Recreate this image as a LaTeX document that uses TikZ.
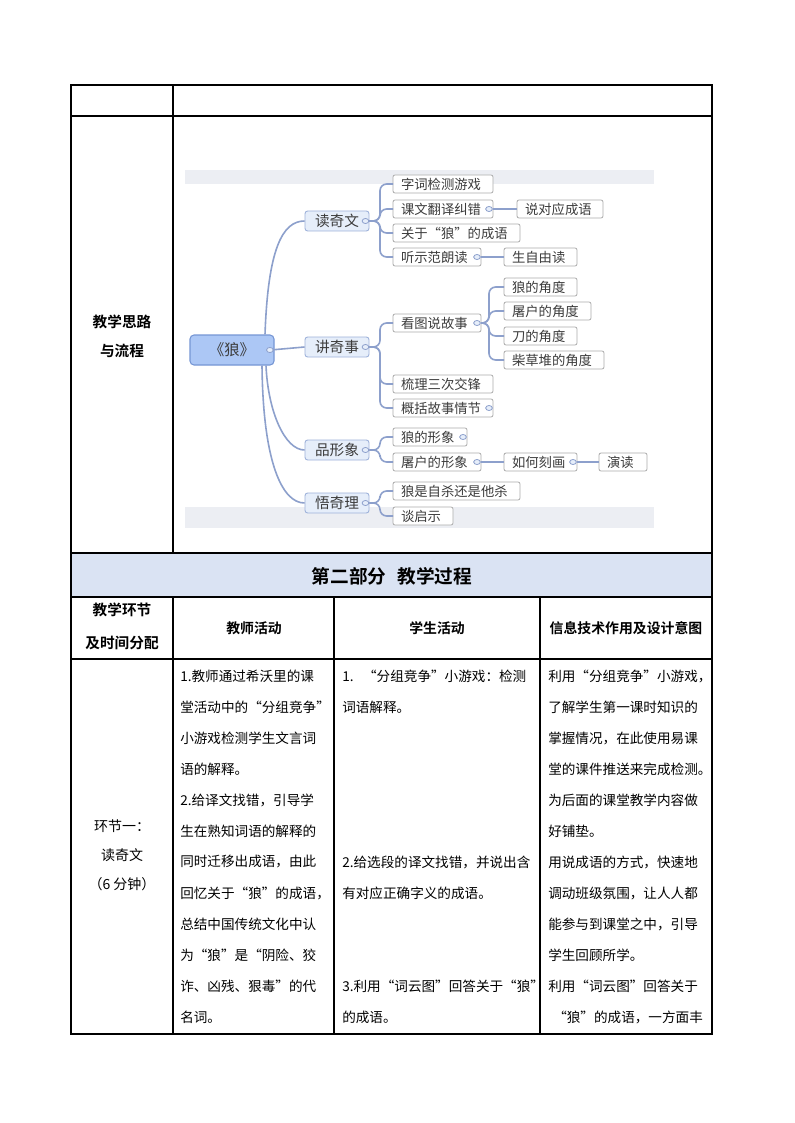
\documentclass[tikz,border=0pt]{standalone}
\usepackage{fontspec}
\usetikzlibrary{shapes.geometric,calc}
\setmainfont{Noto Sans CJK SC}[BoldFont={Noto Sans CJK SC Bold}]
\XeTeXlinebreaklocale "zh"
\XeTeXlinebreakskip=0pt plus 1pt minus 0.6pt
\hbadness=10000 \hfuzz=20pt
\definecolor{mmline}{RGB}{141,160,204}
\definecolor{rootfill}{RGB}{172,199,245}
\definecolor{rootdraw}{RGB}{118,150,212}
\definecolor{lonefill}{RGB}{230,238,250}
\definecolor{lonedraw}{RGB}{158,178,218}
\definecolor{ltwodraw}{RGB}{172,172,172}
\definecolor{ltwotext}{RGB}{60,60,60}
\definecolor{bandgray}{RGB}{236,238,243}
\definecolor{titlefill}{RGB}{218,227,243}
\newcommand\jtea[1]{\makebox[112.5pt][s]{#1}}
\newcommand\jstu[1]{\makebox[144.75pt][s]{#1}}
\newcommand\jinf[1]{\makebox[120.75pt][s]{#1}}
\tikzset{
  tbl/.style={line width=0.8pt, draw=black},
  mmconn/.style={draw=mmline, line width=1.2pt},
  rootbox/.style={draw=rootdraw, fill=rootfill, rounded corners=3pt, minimum width=63pt, minimum height=22.5pt, inner sep=0pt, font=\fontsize{11.5}{13}\selectfont, text=ltwotext, line width=0.8pt},
  lonebox/.style={draw=lonedraw, fill=lonefill, rounded corners=2pt, minimum width=48pt, minimum height=15pt, inner sep=0pt, font=\fontsize{11}{12}\selectfont, text=ltwotext, line width=0.7pt},
  ltwobox/.style={draw=ltwodraw, fill=white, rounded corners=1.5pt, minimum height=13.5pt, inner xsep=6pt, inner ysep=0pt, outer sep=0pt, anchor=west, align=left, font=\fontsize{10}{11}\selectfont, text=ltwotext, line width=0.6pt},
  mmdot/.style={ellipse, draw=mmline, fill=lonefill, minimum width=5pt, minimum height=3.8pt, inner sep=0pt, line width=0.6pt},
  bodytext/.style={anchor=west, inner sep=0pt, font=\fontsize{10.2}{12}\selectfont},
  celltext/.style={inner sep=0pt, font=\fontsize{10.5}{12}\selectfont},
  cellbold/.style={inner sep=0pt, font=\bfseries\fontsize{11}{12}\selectfont},
  headbold/.style={inner sep=0pt, font=\bfseries\fontsize{10.4}{12}\selectfont},
}
\begin{document}
\begin{tikzpicture}[x=0.75pt,y=-0.75pt]
\useasboundingbox (0,0) rectangle (794,1123);
\fill[white] (0,0) rectangle (794,1123);

% ---------- table ----------
\fill[titlefill] (71,553) rectangle (712,597);
\draw[tbl] (71,85) rectangle (712,1034);
\draw[tbl] (71,116) -- (712,116);
\draw[tbl] (71,553) -- (712,553);
\draw[tbl] (71,597) -- (712,597);
\draw[tbl] (71,659) -- (712,659);
\draw[tbl] (173,85) -- (173,553);
\draw[tbl] (173,597) -- (173,1034);
\draw[tbl] (334,597) -- (334,1034);
\draw[tbl] (540,597) -- (540,1034);

\node[cellbold] (lsA) at (122,322) {教学思路};
\node[cellbold] (lsB) at (122,351) {与流程};
\node[inner sep=0pt, font=\bfseries\fontsize{14}{16}\selectfont] (title) at (392,576) {第二部分\hspace{0.6em}教学过程};
\node[cellbold] (hA) at (122,610) {教学环节};
\node[cellbold] (hB) at (122,643) {及时间分配};
\node[headbold] (hC) at (254,628) {教师活动};
\node[headbold] (hD) at (437,628) {学生活动};
\node[headbold] (hE) at (626,628) {信息技术作用及设计意图};

\node[celltext] (sA) at (122,826) {环节一：};
\node[celltext] (sB) at (122,855) {读奇文};
\node[celltext] (sC) at (122,884) {（6 分钟）};

% teacher column
\node[bodytext] (teaA) at (180,676) {\jtea{1.教师通过希沃里的课}};
\node[bodytext] (teaB) at (180,707) {\jtea{堂活动中的“分组竞争”}};
\node[bodytext] (teaC) at (180,738) {\jtea{小游戏检测学生文言词}};
\node[bodytext] (teaD) at (180,769) {语的解释。};
\node[bodytext] (teaE) at (180,800) {\jtea{2.给译文找错，引导学}};
\node[bodytext] (teaF) at (180,831) {\jtea{生在熟知词语的解释的}};
\node[bodytext] (teaG) at (180,862) {\jtea{同时迁移出成语，由此}};
\node[bodytext] (teaH) at (180,893) {\jtea{回忆关于“狼”的成语，}};
\node[bodytext] (teaI) at (180,924) {\jtea{总结中国传统文化中认}};
\node[bodytext] (teaJ) at (180,955) {\jtea{为“狼”是“阴险、狡}};
\node[bodytext] (teaK) at (180,986) {\jtea{诈、凶残、狠毒”的代}};
\node[bodytext] (teaL) at (180,1017) {名词。};

% student column
\node[bodytext] (stuA) at (342,676) {\jstu{1.\hspace{0.7em}“分组竞争”小游戏：检测}};
\node[bodytext] (stuB) at (342,707) {词语解释。};
\node[bodytext] (stuC) at (342,862) {\jstu{2.给选段的译文找错，并说出含}};
\node[bodytext] (stuD) at (342,893) {有对应正确字义的成语。};
\node[bodytext] (stuE) at (342,986) {\jstu{3.利用“词云图”回答关于“狼”}};
\node[bodytext] (stuF) at (342,1017) {的成语。};

% info column
\node[bodytext] (infA) at (548,676) {\jinf{利用“分组竞争”小游戏，}};
\node[bodytext] (infB) at (548,707) {\jinf{了解学生第一课时知识的}};
\node[bodytext] (infC) at (548,738) {\jinf{掌握情况，在此使用易课}};
\node[bodytext] (infD) at (548,769) {\jinf{堂的课件推送来完成检测。}};
\node[bodytext] (infE) at (548,800) {\jinf{为后面的课堂教学内容做}};
\node[bodytext] (infF) at (548,831) {好铺垫。};
\node[bodytext] (infG) at (548,862) {\jinf{用说成语的方式，快速地}};
\node[bodytext] (infH) at (548,893) {\jinf{调动班级氛围，让人人都}};
\node[bodytext] (infI) at (548,924) {\jinf{能参与到课堂之中，引导}};
\node[bodytext] (infJ) at (548,955) {学生回顾所学。};
\node[bodytext] (infK) at (548,986) {\jinf{利用“词云图”回答关于}};
\node[bodytext] (infL) at (553,1017) {\makebox[117pt][s]{“狼”的成语，一方面丰}};

% ---------- mind map ----------
\fill[bandgray] (185,170) rectangle (654,184);
\fill[bandgray] (185,507) rectangle (654,528);

\node[rootbox] (root) at (232,350) {《狼》};
\node[lonebox] (dwen) at (337,221) {读奇文};
\node[lonebox] (jshi) at (337,347) {讲奇事};
\node[lonebox] (pxx) at (337,450) {品形象};
\node[lonebox] (wql) at (337,503) {悟奇理};

\node[ltwobox, text width=63pt] (aA) at (393,184) {字词检测游戏};
\node[ltwobox, text width=63pt] (aB) at (393,209) {课文翻译纠错};
\node[ltwobox, text width=52.5pt] (aBc) at (517,209) {说对应成语};
\node[ltwobox, text width=83.25pt] (aC) at (393,233) {关于“狼”的成语};
\node[ltwobox, text width=54pt] (aD) at (393,257) {听示范朗读};
\node[ltwobox, text width=42.75pt] (aDc) at (504,257) {生自由读};

\node[ltwobox, text width=54pt] (bA) at (393,323) {看图说故事};
\node[ltwobox, text width=42.75pt] (bAa) at (504,287) {狼的角度};
\node[ltwobox, text width=53.25pt] (bAb) at (504,311) {屠户的角度};
\node[ltwobox, text width=42.75pt] (bAc) at (504,336) {刀的角度};
\node[ltwobox, text width=63pt] (bAd) at (504,360) {柴草堆的角度};
\node[ltwobox, text width=63pt] (bB) at (393,384) {梳理三次交锋};
\node[ltwobox, text width=63pt] (bC) at (393,408) {概括故事情节};

\node[ltwobox, text width=43.5pt] (cA) at (393,437) {狼的形象};
\node[ltwobox, text width=54pt] (cB) at (393,462) {屠户的形象};
\node[ltwobox, text width=42.75pt] (cBa) at (504,462) {如何刻画};
\node[ltwobox, text width=24pt] (cBb) at (599,462) {演读};

\node[ltwobox, text width=83.25pt] (dA) at (393,491) {狼是自杀还是他杀};
\node[ltwobox, text width=33pt] (dB) at (393,516) {谈启示};

% junction points
\coordinate (jA) at (380,221);
\coordinate (jB) at (380,347);
\coordinate (jC) at (380,450);
\coordinate (jD) at (380,503);
\coordinate (jBA) at (489,323);

% root connectors
\draw[mmconn] ([xshift=24.75pt]root.north) .. controls (268,250) and (282,221) .. (dwen.west);
\draw[mmconn] ([xshift=-3pt]root.east) -- (jshi.west);
\draw[mmconn] ([xshift=25.5pt]root.south) .. controls (268,412) and (285,450) .. (pxx.west);
\draw[mmconn] ([xshift=22.5pt]root.south) .. controls (263,462) and (282,503) .. (wql.west);

% brackets
\foreach \c in {aA,aB,aC,aD}
  \draw[mmconn, rounded corners=5pt] (dwen.east) -- (jA) |- (\c.west);
\foreach \c in {bA,bB,bC}
  \draw[mmconn, rounded corners=5pt] (jshi.east) -- (jB) |- (\c.west);
\foreach \c in {cA,cB}
  \draw[mmconn, rounded corners=5pt] (pxx.east) -- (jC) |- (\c.west);
\foreach \c in {dA,dB}
  \draw[mmconn, rounded corners=5pt] (wql.east) -- (jD) |- (\c.west);
\foreach \c in {bAa,bAb,bAc,bAd}
  \draw[mmconn, rounded corners=5pt] (bA.east) -- (jBA) |- (\c.west);

\draw[mmconn] (aB.east) -- (aBc.west);
\draw[mmconn] (aD.east) -- (aDc.west);
\draw[mmconn] (cB.east) -- (cBa.west);
\draw[mmconn] (cBa.east) -- (cBb.west);

% collapse dots
\node[mmdot] (dotR) at ([xshift=-3.5pt]root.east) {};
\node[mmdot] (dotA) at ([xshift=-3pt]dwen.east) {};
\node[mmdot] (dotB) at ([xshift=-3pt]jshi.east) {};
\node[mmdot] (dotC) at ([xshift=-3pt]pxx.east) {};
\node[mmdot] (dotD) at ([xshift=-3pt]wql.east) {};
\node[mmdot] (dotaB) at ([xshift=-3pt]aB.east) {};
\node[mmdot] (dotaD) at ([xshift=-3pt]aD.east) {};
\node[mmdot] (dotbA) at ([xshift=-3pt]bA.east) {};
\node[mmdot] (dotbC) at ([xshift=-3pt]bC.east) {};
\node[mmdot] (dotcA) at ([xshift=-3pt]cA.east) {};
\node[mmdot] (dotcB) at ([xshift=-3pt]cB.east) {};
\node[mmdot] (dotcBa) at ([xshift=-3pt]cBa.east) {};
\end{tikzpicture}
\end{document}
